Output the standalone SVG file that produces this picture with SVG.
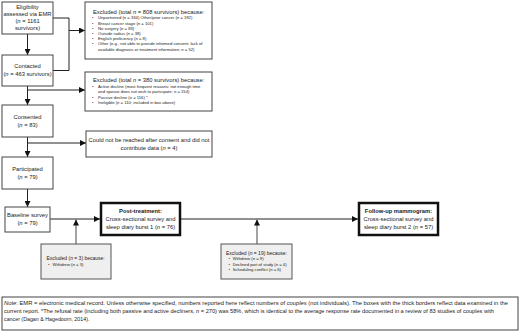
<svg xmlns="http://www.w3.org/2000/svg" width="520" height="332" viewBox="0 0 520 332">
<defs>
<marker id="ah" markerUnits="userSpaceOnUse" markerWidth="6" markerHeight="6" refX="6" refY="3" orient="auto">
<path d="M0,0 L6,3 L0,6 z" fill="#111"/>
</marker>
<style>
text{font-family:"Liberation Sans",Arial,sans-serif;fill:#222}
.m{font-size:5.8px;text-anchor:middle}
.t{font-size:5.8px}
.s{font-size:5px}
.b{font-size:4.2px}
.box{fill:#fff;stroke:#444;stroke-width:1}
.thick{fill:#fff;stroke:#111;stroke-width:2.5}
.gray{fill:#efefef;stroke:#555;stroke-width:1}
.c{fill:none;stroke:#222;stroke-width:1}
.cg{fill:none;stroke:#666;stroke-width:1.2}
</style>
</defs>
<rect width="520" height="332" fill="#fff"/>
<g id="connectors">
<line class="c" x1="27.5" y1="34" x2="27.5" y2="55" marker-end="url(#ah)"/>
<path class="c" d="M53,18 H69 V70.5 H53"/>
<line class="c" x1="69" y1="30.5" x2="85" y2="30.5" marker-end="url(#ah)"/>
<line class="c" x1="27.5" y1="86" x2="27.5" y2="105" marker-end="url(#ah)"/>
<line class="c" x1="27.5" y1="90" x2="85" y2="90" marker-end="url(#ah)"/>
<line class="c" x1="27.5" y1="137" x2="27.5" y2="157" marker-end="url(#ah)"/>
<line class="c" x1="27.5" y1="143" x2="86" y2="143" marker-end="url(#ah)"/>
<line class="c" x1="27.5" y1="189" x2="27.5" y2="207" marker-end="url(#ah)"/>
<line class="c" x1="50" y1="219" x2="100" y2="219" marker-end="url(#ah)"/>
<line class="c" x1="180" y1="219" x2="358" y2="219" marker-end="url(#ah)"/>
<line class="cg" x1="76" y1="244" x2="76" y2="219.5" marker-end="url(#ah)"/>
<line class="cg" x1="257" y1="244" x2="257" y2="219.5" marker-end="url(#ah)"/>
</g>
<g id="eligibility">
<rect class="box" x="2" y="2" width="51" height="32"/>
<text class="m" x="27.5" y="9">Eligibility</text>
<text class="m" x="27.5" y="16">assessed via EMR</text>
<text class="m" x="27.5" y="23">(<tspan font-style="italic">n</tspan> = 1161</text>
<text class="m" x="27.5" y="30">survivors)</text>
</g>
<g id="excluded1">
<rect class="box" x="85" y="2" width="127" height="57"/>
<text class="t" x="93" y="13.7">Excluded (total <tspan font-style="italic">n</tspan> = 808 survivors) because:</text>
<text class="b" x="92" y="19.2">•</text><text class="b" x="98" y="19.2">Unpartnered (<tspan font-style="italic">n</tspan> = 334) Other/prior cancer (<tspan font-style="italic">n</tspan> = 192)</text>
<text class="b" x="92" y="24.6">•</text><text class="b" x="98" y="24.6">Breast cancer stage (<tspan font-style="italic">n</tspan> = 101)</text>
<text class="b" x="92" y="29.8">•</text><text class="b" x="98" y="29.8">No surgery (<tspan font-style="italic">n</tspan> = 83)</text>
<text class="b" x="92" y="35">•</text><text class="b" x="98" y="35">Outside radius (<tspan font-style="italic">n</tspan> = 38)</text>
<text class="b" x="92" y="40.2">•</text><text class="b" x="98" y="40.2">English proficiency (<tspan font-style="italic">n</tspan> = 8)</text>
<text class="b" x="92" y="45.3">•</text><text class="b" x="98" y="45.3">Other (e.g., not able to provide informed consent; lack of</text>
<text class="b" x="98" y="50.5">available diagnosis or treatment information; <tspan font-style="italic">n</tspan> = 52)</text>
</g>
<g id="contacted">
<rect class="box" x="2" y="55" width="51" height="31"/>
<text class="m" x="27.5" y="68">Contacted</text>
<text class="m" x="27.5" y="76">(<tspan font-style="italic">n</tspan> = 463 survivors)</text>
</g>
<g id="excluded2">
<rect class="box" x="85" y="72" width="127" height="39"/>
<text class="t" x="93" y="82">Excluded (total <tspan font-style="italic">n</tspan> = 380 survivors) because:</text>
<text class="b" x="92" y="87.8">•</text><text class="b" x="98" y="87.8">Active decline (most frequent reasons: not enough time</text>
<text class="b" x="98" y="93.2">and spouse does not wish to participate; <tspan font-style="italic">n</tspan> = 154)</text>
<text class="b" x="92" y="98.8">•</text><text class="b" x="98" y="98.8">Passive decline (<tspan font-style="italic">n</tspan> = 116) *</text>
<text class="b" x="92" y="103.8">•</text><text class="b" x="98" y="103.8">Ineligible (<tspan font-style="italic">n</tspan> = 110; included in box above)</text>
</g>
<g id="consented">
<rect class="box" x="2" y="105" width="51" height="32"/>
<text class="m" x="27.5" y="118.5">Consented</text>
<text class="m" x="27.5" y="126.5">(<tspan font-style="italic">n</tspan> = 83)</text>
</g>
<g id="unreached">
<rect class="box" x="86" y="131" width="126" height="26"/>
<text class="m" x="149" y="142">Could not be reached after consent and did not</text>
<text class="m" x="149" y="150">contribute data (<tspan font-style="italic">n</tspan> = 4)</text>
</g>
<g id="participated">
<rect class="box" x="2" y="157" width="51" height="32"/>
<text class="m" x="27.5" y="170.5">Participated</text>
<text class="m" x="27.5" y="178.5">(<tspan font-style="italic">n</tspan> = 79)</text>
</g>
<g id="baseline">
<rect class="box" x="5" y="207" width="45" height="25"/>
<text class="m" x="27.5" y="217">Baseline survey</text>
<text class="m" x="27.5" y="225">(<tspan font-style="italic">n</tspan> = 79)</text>
</g>
<g id="posttreatment">
<rect class="thick" x="101" y="203" width="79" height="32"/>
<text class="m" x="140.5" y="213" font-weight="bold">Post-treatment:</text>
<text class="m" x="140.5" y="221">Cross-sectional survey and</text>
<text class="m" x="140.5" y="229">sleep diary burst 1 (<tspan font-style="italic">n</tspan> = 76)</text>
</g>
<g id="followup">
<rect class="thick" x="359" y="203" width="79" height="32"/>
<text class="m" x="398.5" y="213" font-weight="bold">Follow-up mammogram:</text>
<text class="m" x="398.5" y="221">Cross-sectional survey and</text>
<text class="m" x="398.5" y="229">sleep diary burst 2 (<tspan font-style="italic">n</tspan> = 57)</text>
</g>
<g id="excluded3">
<rect class="gray" x="41" y="244" width="70" height="35"/>
<text class="s" x="46.5" y="260">Excluded (<tspan font-style="italic">n</tspan> = 3) because:</text>
<text class="b" x="48" y="265.5">•</text><text class="b" x="52.5" y="265.5">Withdrew (<tspan font-style="italic">n</tspan> = 3)</text>
</g>
<g id="excluded19">
<rect class="gray" x="221" y="244" width="71" height="35"/>
<text class="s" x="226" y="255">Excluded (<tspan font-style="italic">n</tspan> = 19) because:</text>
<text class="b" x="228.5" y="260.2">•</text><text class="b" x="232.7" y="260.2">Withdrew (<tspan font-style="italic">n</tspan> = 9)</text>
<text class="b" x="228.5" y="265.7">•</text><text class="b" x="232.7" y="265.7">Declined part of study (<tspan font-style="italic">n</tspan> = 4)</text>
<text class="b" x="228.5" y="271.2">•</text><text class="b" x="232.7" y="271.2">Scheduling conflict (<tspan font-style="italic">n</tspan> = 6)</text>
</g>
<g id="note">
<rect class="box" x="2" y="297" width="516" height="33"/>
<text class="b" style="font-size:5.3px" x="4" y="305" textLength="504" lengthAdjust="spacingAndGlyphs"><tspan font-style="italic">Note</tspan>: EMR = electronic medical record. Unless otherwise specified, numbers reported here reflect numbers of <tspan font-style="italic">couples</tspan> (not individuals). The boxes with the thick borders reflect data examined in the</text>
<text class="b" style="font-size:5.3px" x="4" y="313" textLength="490" lengthAdjust="spacingAndGlyphs">current report. *The refusal rate (including both passive and active decliners, <tspan font-style="italic">n</tspan> = 270) was 58%, which is identical to the average response rate documented in a review of 83 studies of couples with</text>
<text class="b" style="font-size:5.3px" x="4" y="321">cancer (Dagan &amp; Hagedoorn, 2014).</text>
</g>
</svg>
